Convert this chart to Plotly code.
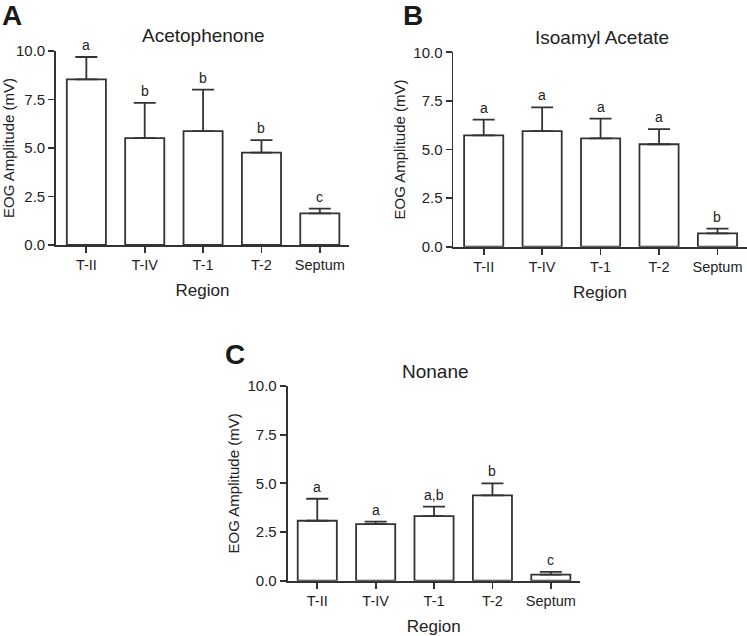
import plotly.graph_objects as go

W, H = 747, 636

regions = ["T-II", "T-IV", "T-1", "T-2", "Septum"]

aceto_mean = [8.54, 5.51, 5.87, 4.76, 1.63]
aceto_upper = [9.69, 7.33, 8.01, 5.41, 1.87]
aceto_letters = ["a", "b", "b", "b", "c"]

iso_mean = [5.73, 5.95, 5.57, 5.27, 0.69]
iso_upper = [6.54, 7.17, 6.59, 6.05, 0.93]
iso_letters = ["a", "a", "a", "a", "b"]

non_mean = [3.08, 2.91, 3.32, 4.38, 0.31]
non_upper = [4.21, 3.03, 3.80, 5.00, 0.45]
non_letters = ["a", "a", "a,b", "b", "c"]

yticks = [0, 2.5, 5, 7.5, 10]
yticktext = ["0.0", "2.5", "5.0", "7.5", "10.0"]

panels = [
    dict(name="Acetophenone", label="A", mean=aceto_mean, upper=aceto_upper, letters=aceto_letters,
         x0=56, x1=349, ytop=51, ybot=245, xr=[-0.52, 4.5], title_xy=(203, 36), label_xy=(12, 15)),
    dict(name="Isoamyl Acetate", label="B", mean=iso_mean, upper=iso_upper, letters=iso_letters,
         x0=453.3, x1=746.7, ytop=52.3, ybot=246.7, xr=[-0.52, 4.5], title_xy=(602, 37), label_xy=(413, 15)),
    dict(name="Nonane", label="C", mean=non_mean, upper=non_upper, letters=non_letters,
         x0=287.5, x1=580, ytop=386, ybot=580.7, xr=[-0.51, 4.5], title_xy=(435, 371), label_xy=(235, 354)),
]

LINE = "#333333"
TEXT = "#222222"
FONT = "Liberation Sans, Arial, sans-serif"

fig = go.Figure()
annotations = []
for i, p in enumerate(panels):
    sfx = "" if i == 0 else str(i + 1)
    xa, ya = "x" + sfx, "y" + sfx
    fig.add_trace(go.Bar(
        x=regions, y=p["mean"], xaxis=xa, yaxis=ya, width=0.67,
        marker=dict(color="white", line=dict(color=LINE, width=1.8)),
        error_y=dict(type="data", symmetric=False,
                     array=[u - m for u, m in zip(p["upper"], p["mean"])],
                     arrayminus=[0] * len(p["mean"]),
                     color=LINE, thickness=1.8, width=11),
        showlegend=False, hoverinfo="skip",
    ))
    dom_x = [p["x0"] / W, p["x1"] / W]
    dom_y = [1 - p["ybot"] / H, 1 - p["ytop"] / H]
    fig.layout["xaxis" + sfx] = dict(
        domain=dom_x, anchor=ya, type="category", range=p["xr"],
        showline=True, linecolor=LINE, linewidth=1.8,
        ticks="outside", ticklen=6, tickwidth=1.8, tickcolor=LINE,
        tickfont=dict(size=14.5, color=TEXT, family=FONT),
        showgrid=False, zeroline=False, fixedrange=True, automargin=False,
        title=dict(text="Region", font=dict(size=17, color=TEXT, family=FONT), standoff=12),
    )
    fig.layout["yaxis" + sfx] = dict(
        domain=dom_y, anchor=xa, range=[0, 10],
        tickvals=yticks, ticktext=yticktext,
        showline=True, linecolor=LINE, linewidth=1.8,
        ticks="outside", ticklen=6, tickwidth=1.8, tickcolor=LINE,
        tickfont=dict(size=15, color=TEXT, family=FONT),
        showgrid=False, zeroline=False, fixedrange=True, automargin=False,
        title=dict(text="EOG Amplitude (mV)", font=dict(size=15, color=TEXT, family=FONT), standoff=4),
    )
    for r, u, lt in zip(regions, p["upper"], p["letters"]):
        annotations.append(dict(x=r, y=u, xref=xa, yref=ya, text=lt, showarrow=False,
                                yanchor="bottom", yshift=2,
                                font=dict(size=14, color=TEXT, family=FONT)))
    annotations.append(dict(x=p["title_xy"][0] / W, y=1 - p["title_xy"][1] / H, xref="paper", yref="paper",
                            text=p["name"], showarrow=False, xanchor="center", yanchor="middle",
                            font=dict(size=19, color=TEXT, family=FONT)))
    annotations.append(dict(x=p["label_xy"][0] / W, y=1 - p["label_xy"][1] / H, xref="paper", yref="paper",
                            text="<b>" + p["label"] + "</b>", showarrow=False, xanchor="center", yanchor="middle",
                            font=dict(size=28, color="#1a1a1a", family=FONT)))

fig.update_layout(
    width=W, height=H, margin=dict(l=0, r=0, t=0, b=0, autoexpand=False),
    paper_bgcolor="white", plot_bgcolor="white",
    annotations=annotations, bargap=0.33,
)

fig.write_html("out.html",
               config={"displayModeBar": False, "staticPlot": True},
               post_script="document.body.style.margin='0';document.body.style.overflow='hidden';")
